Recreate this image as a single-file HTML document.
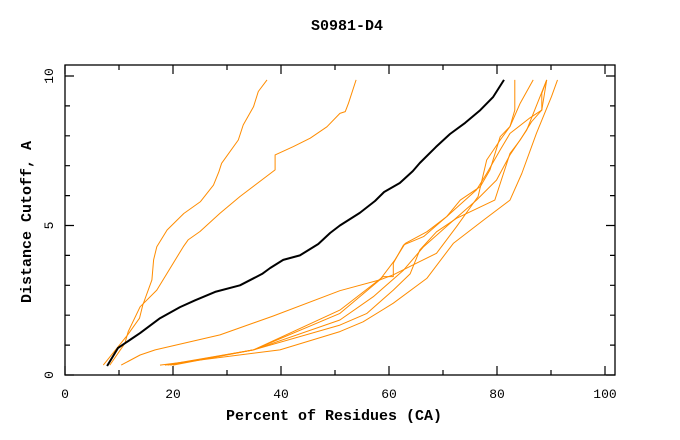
<!DOCTYPE html>
<html><head><meta charset="utf-8"><style>
html,body{margin:0;padding:0;background:#fff;width:680px;height:440px;overflow:hidden}
svg{display:block;font-family:"Liberation Mono",monospace}
</style></head><body>
<svg id="chart" width="680" height="440" xmlns="http://www.w3.org/2000/svg">
<text x="347" y="30" text-anchor="middle" font-size="15" font-weight="bold">S0981-D4</text>
<text x="334" y="420" text-anchor="middle" font-size="15" font-weight="bold">Percent of Residues (CA)</text>
<text transform="translate(31,222) rotate(-90)" text-anchor="middle" font-size="15" font-weight="bold">Distance Cutoff, A</text>
<g id="axes"></g>
<g id="series"></g>
</svg>
<script>
const xTicks=[0,20,40,60,80,100];
const yTicks=[0,5,10];
const blackX=[7.8,9.8,12.0,13.9,17.6,21.3,24.1,27.8,32.4,36.5,38.0,40.4,43.5,46.9,49.1,50.9,54.6,57.4,59.1,62.0,64.4,65.7,68.7,71.3,74.1,76.9,79.3,81.3];
const blackY=[0.3,0.9,1.17,1.4,1.9,2.27,2.5,2.78,3.0,3.38,3.58,3.85,4.0,4.38,4.75,5.0,5.42,5.82,6.12,6.42,6.82,7.09,7.63,8.06,8.43,8.86,9.3,9.87];
const oAX=[7.1,11.6,13.8,14.4,16.1,16.4,17.0,18.9,22.0,25.1,27.5,28.5,29.0,32.1,33.0,34.9,35.8,37.4];
const oAY=[0.33,1.34,1.9,2.34,3.18,3.85,4.29,4.85,5.4,5.8,6.35,6.8,7.08,7.86,8.36,8.97,9.48,9.87];
const oBX=[8.3,11.1,11.7,13.9,17.0,21.9,22.8,25.0,28.7,32.4,38.9,38.9,42.3,45.4,48.5,50.9,51.9,52.5,53.9];
const oBY=[0.33,1.06,1.45,2.28,2.84,4.29,4.52,4.8,5.41,5.97,6.86,7.36,7.64,7.92,8.3,8.75,8.81,9.09,9.87];
const o1X=[17.6,39.8,50.9,55.2,60.8,67.0,71.9,77.5,82.4,84.6,87.3,90.1,91.2];
const o1Y=[0.33,0.84,1.45,1.78,2.4,3.23,4.4,5.18,5.85,6.74,8.08,9.31,9.87];
const o2X=[18.5,34.9,50.9,55.9,60.8,63.9,65.7,68.8,72.5,79.6,82.4,84.3,86.4,88.3,89.2];
const o2Y=[0.33,0.84,1.67,2.06,2.84,3.38,4.18,4.79,5.24,5.85,7.41,7.86,8.47,8.86,9.87];
const o3X=[19,34.9,50.9,57.1,62.7,66.4,71.3,76.2,79.9,82.4,85.5,89.2];
const o3Y=[0.33,0.84,1.84,2.62,3.51,4.29,5.07,5.85,6.52,7.36,8.19,9.87];
const o4X=[19.5,34.9,50.9,58.3,61.1,63.0,67.0,70.7,76.2,78.1,80.6,82.4,86.1,88.3,88.3,89.2];
const o4Y=[0.33,0.84,2.06,3.18,3.85,4.4,4.79,5.3,6.19,6.74,7.53,8.08,8.6,8.86,9.42,9.87];
const o5X=[20,34.9,50.9,58.9,60.8,60.8,62.7,66.4,70.7,73.2,76.9,78.7,80.6,82.4,83.3,83.3];
const o5Y=[0.33,0.84,2.17,3.29,3.29,3.74,4.35,4.63,5.3,5.85,6.3,6.86,7.97,8.31,8.86,9.87];
const o6X=[10.4,13.9,16.7,28.7,38.5,50.9,58.3,60.8,65.1,68.8,72.5,76.5,78.1,80.6,82.4,84.3,86.7];
const o6Y=[0.33,0.67,0.84,1.34,1.97,2.82,3.18,3.35,3.74,4.07,4.96,5.97,7.19,7.86,8.31,9.09,9.87];

const X0=65,X1=615,Y0=375,Y1=65;
const sx=v=>65+v*5.4;
const sy=v=>375-v*29.9;
const NS="http://www.w3.org/2000/svg";
const axes=document.getElementById('axes');
const series=document.getElementById('series');
function mk(tag,attrs,parent){const e=document.createElementNS(NS,tag);for(const k in attrs)e.setAttribute(k,attrs[k]);parent.appendChild(e);return e;}

const frame=mk('rect',{x:X0,y:Y1,width:X1-X0,height:Y0-Y1,fill:'none',stroke:'#000','stroke-width':1.3},axes);


let d='';
for(let v=0;v<=100;v+=10){const x=sx(v);const L=(v%20===0)?9:5;d+=`M${x} ${Y0}v${-L}M${x} ${Y1}v${L}`;}
for(let v=0;v<=10;v+=1){const y=sy(v);const L=(v%5===0)?9:5;d+=`M${X0} ${y}h${L}M${X1} ${y}h${-L}`;}
const ticks=mk('path',{d:d,stroke:'#000','stroke-width':1.2,fill:'none'},axes);


xTicks.forEach(v=>{const t=mk('text',{x:sx(v),y:398,'text-anchor':'middle','font-size':13},axes);t.textContent=v;

});
yTicks.forEach(v=>{const t=mk('text',{transform:`translate(53,${sy(v)}) rotate(-90)`,'text-anchor':'middle','font-size':13},axes);t.textContent=v;

});

function line(xs,ys,color,w,name){const pts=xs.map((x,i)=>sx(x).toFixed(1)+','+sy(ys[i]).toFixed(1)).join(' ');
const p=mk('polyline',{points:pts,fill:'none',stroke:color,'stroke-width':w,'stroke-linejoin':'round'},series);

}
const OR='#ff8c00';
line(oAX,oAY,OR,1,'model-line-a');
line(oBX,oBY,OR,1,'model-line-b');
line(o1X,o1Y,OR,1,'model-line-1');
line(o2X,o2Y,OR,1,'model-line-2');
line(o3X,o3Y,OR,1,'model-line-3');
line(o4X,o4Y,OR,1,'model-line-4');
line(o5X,o5Y,OR,1,'model-line-5');
line(o6X,o6Y,OR,1,'model-line-6');
line(blackX,blackY,'#000',2,'reference-line');
</script>
</body></html>
